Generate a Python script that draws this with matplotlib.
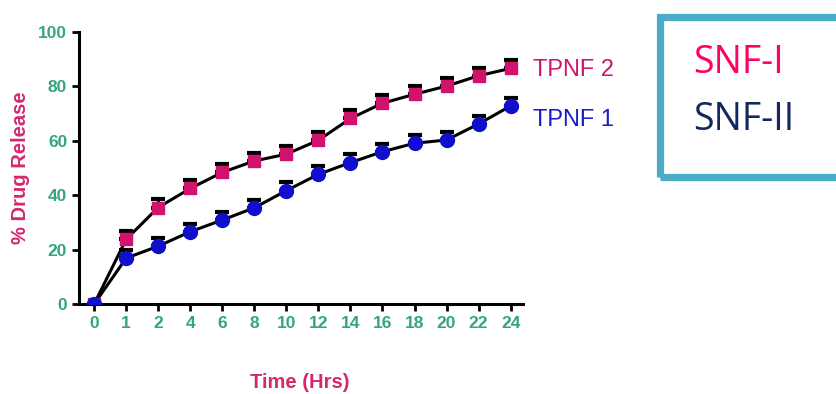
import matplotlib
matplotlib.use("Agg")
import matplotlib.pyplot as plt
from matplotlib.patches import Rectangle
import numpy as np

time_labels = ["0", "1", "2", "4", "6", "8", "10", "12", "14", "16", "18", "20", "22", "24"]
tpnf2 = [0, 23.8, 35.5, 42.5, 48.4, 52.6, 55.1, 60.2, 68.2, 73.8, 77.1, 80.1, 83.9, 86.6]
tpnf1 = [0, 16.9, 21.3, 26.6, 30.9, 35.4, 41.7, 47.7, 52.0, 56.0, 59.1, 60.3, 66.2, 72.8]
err2 = [0, 3, 3, 3, 3, 3, 3, 3, 3, 3, 3, 3, 3, 3]
err1 = [0, 3, 3, 3, 3, 3, 3, 3, 3, 3, 3, 3, 3, 3]
yticks = [0, 20, 40, 60, 80, 100]

green = "#35a57a"
pink = "#d5286e"

fig = plt.figure(figsize=(8.37, 3.94), dpi=100)
ax = fig.add_axes([0.0944, 0.228, 0.531, 0.691])
x = np.arange(len(time_labels))

for vals, err, mk, col, ms in [(tpnf2, err2, "s", "#d0146e", 9), (tpnf1, err1, "o", "#1010cc", 10)]:
    ax.errorbar(x, vals, yerr=[np.zeros(len(err)), err], fmt="none", ecolor="black",
                elinewidth=2, capsize=5, capthick=3, zorder=2)
    ax.plot(x, vals, color="black", lw=2.2, zorder=3)
    ax.plot(x, vals, linestyle="none", marker=mk, color=col, markersize=ms, zorder=4)

ax.set_xlim(-0.47, 13.4)
ax.set_ylim(0, 100)
ax.set_xticks(x)
ax.set_xticklabels(time_labels)
ax.set_yticks(yticks)
for s in ["top", "right"]:
    ax.spines[s].set_visible(False)
for s in ["left", "bottom"]:
    ax.spines[s].set_linewidth(2.2)
ax.tick_params(axis="both", width=2, length=5, colors="black", labelcolor=green, labelsize=12.5)
for lab in ax.get_xticklabels() + ax.get_yticklabels():
    lab.set_fontweight("bold")
    lab.set_fontfamily("Liberation Sans")
ax.set_ylabel("% Drug Release", color=pink, fontsize=14.5, fontweight="bold", family="Liberation Sans", labelpad=6)
fig.text(300 / 837, 1 - 382 / 394, "Time (Hrs)", color=pink, fontsize=14.5, fontweight="bold",
         family="Liberation Sans", ha="center", va="center")

ax.text(13.7, 86, "TPNF 2", color="#d0146e", fontsize=17, family="Liberation Sans", va="center", clip_on=False)
ax.text(13.7, 67.6, "TPNF 1", color="#1a1acc", fontsize=17, family="Liberation Sans", va="center", clip_on=False)

fig.patches.append(Rectangle((660 / 837, 1 - 176.5 / 394), 200 / 837, 160 / 394, transform=fig.transFigure,
                             fill=False, edgecolor="#4aacc6", linewidth=5.2, clip_on=False))
fig.text(693 / 837, 1 - 63 / 394, "SNF-I", color="#ff0066", fontsize=27, family="Open Sans", va="center")
fig.text(693 / 837, 1 - 120 / 394, "SNF-II", color="#14285e", fontsize=27, family="Open Sans", va="center")

fig.savefig("out.png", dpi=100)
